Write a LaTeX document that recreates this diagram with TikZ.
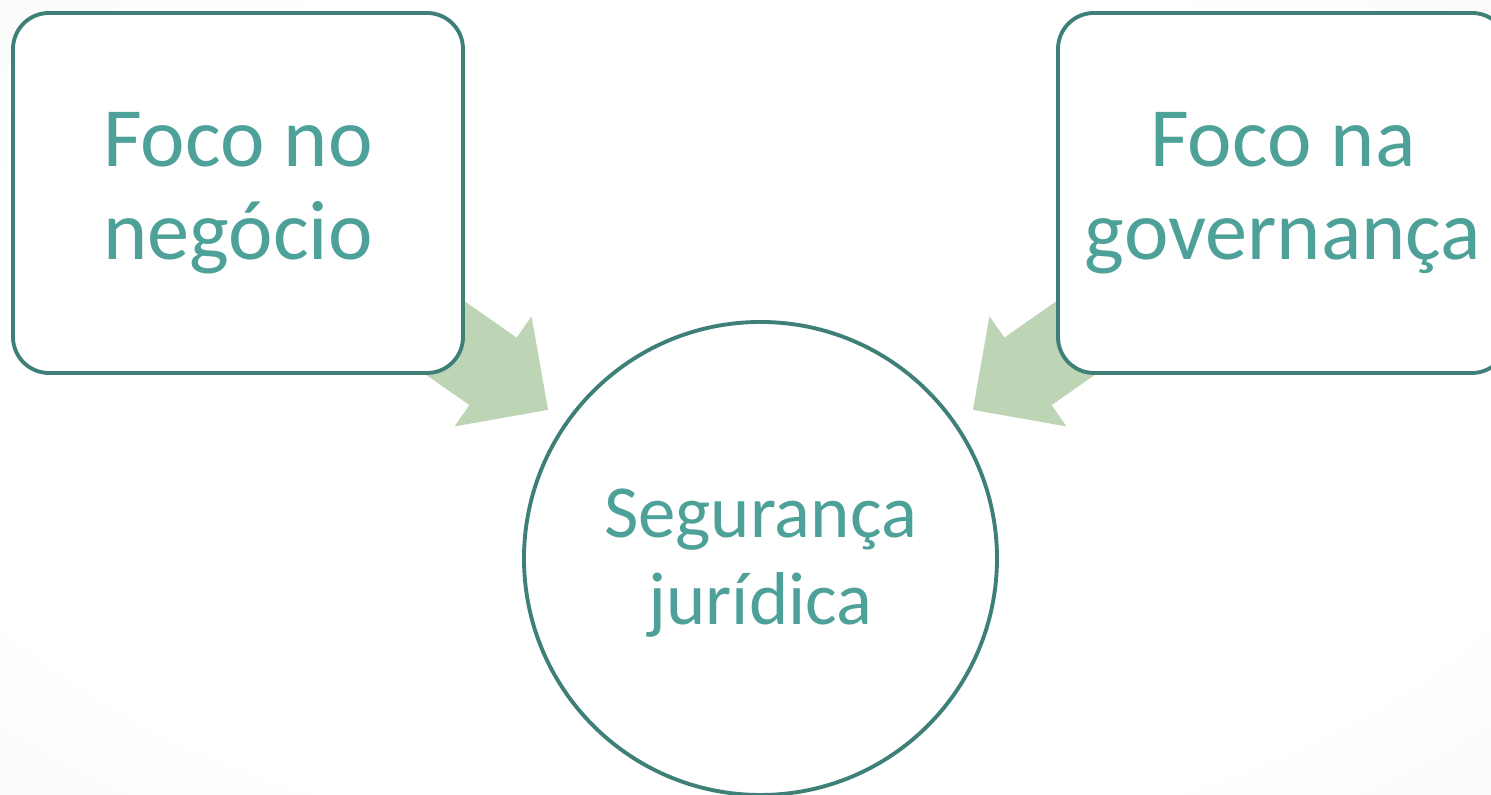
\documentclass[tikz,border=0pt]{standalone}
\usepackage{fontspec}
\setmainfont{Carlito}
\usetikzlibrary{shapes.arrows,backgrounds}
\definecolor{rim}{HTML}{3E8077}
\definecolor{ink}{HTML}{4DA198}
\definecolor{leaf}{HTML}{BDD5B4}
\pgfdeclareradialshading{glow}{\pgfpoint{0bp}{0bp}}{color(0bp)=(white); color(28bp)=(white); color(50bp)=(black!5); color(70bp)=(black!6)}

\begin{document}
\begin{tikzpicture}[
        focus/.style={draw=rim, line width=1.1pt, fill=white, rounded corners=0.36cm,
            minimum width=4.5cm, minimum height=3.6cm, align=center, text=ink,
            font=\fontsize{24}{26.5}\selectfont},
        goal/.style={circle, draw=rim, line width=1.1pt, fill=white, minimum size=4.73cm,
            align=center, text=ink, font=\fontsize{21.3}{24.7}\selectfont},
        push/.style={single arrow, fill=leaf, minimum height=2.6cm, inner xsep=0pt,
            inner ysep=0.405cm, single arrow head extend=0.26cm}]
        \clip (0,0) rectangle (14.91,7.95);
        \node[focus] (negocio) at (2.38,6.02) {Foco no\\negócio};
        \node[focus] (governanca) at (12.83,6.02) {Foco na\\governança};
        \node[goal] (seguranca) at (7.605,2.365) {};
        \node[text=ink, align=center, font=\fontsize{21.3}{24.7}\selectfont]
            (rotulo) at ([yshift=-0.05cm]seguranca.center) {Segurança\\jurídica};
        \begin{scope}[on background layer]
            \shade[shading=glow] (0,0) rectangle (14.91,7.95);
            \path (negocio.center) -- (seguranca.center)
                node[push, sloped, allow upside down, pos=0.595, anchor=tip] {};
            \path (governanca.center) -- (seguranca.center)
                node[push, sloped, allow upside down, pos=0.595, anchor=tip] {};
        \end{scope}
    \end{tikzpicture}
\end{document}
